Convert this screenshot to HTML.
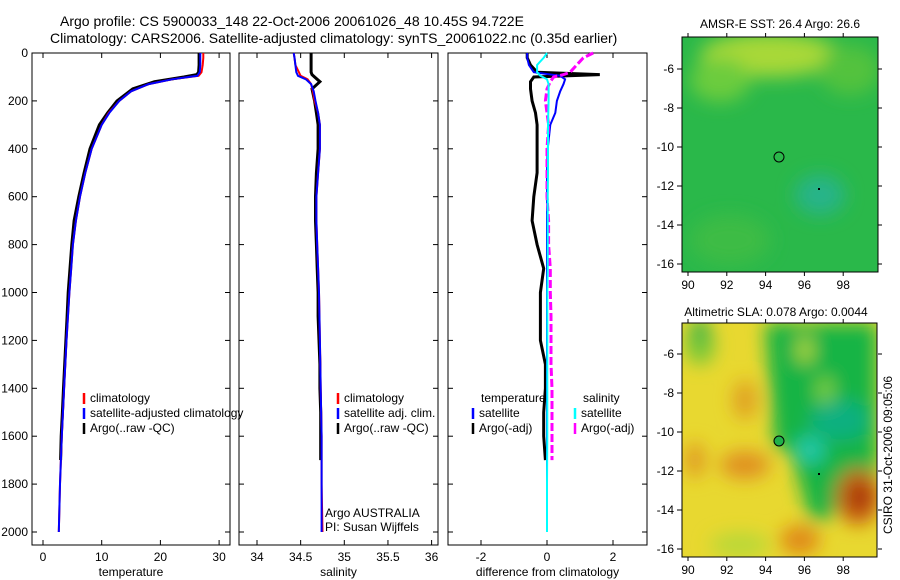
<!DOCTYPE html>
<html><head><meta charset="utf-8"><style>
body{margin:0;background:#fff}
svg{display:block;font-family:"Liberation Sans",sans-serif}
</style></head><body>
<svg id="c" width="900" height="580" viewBox="0 0 900 580">
<defs>
<filter id="bl" x="-50%" y="-50%" width="200%" height="200%"><feGaussianBlur stdDeviation="9"/></filter>
<clipPath id="m1"><rect x="682" y="37" width="196" height="235"/></clipPath>
<clipPath id="m2"><rect x="682" y="323" width="195" height="234"/></clipPath>
</defs>
<text x="60" y="26" font-size="14">Argo profile: CS 5900033_148 22-Oct-2006 20061026_48 10.45S 94.722E</text>
<text x="50" y="43" font-size="14">Climatology: CARS2006. Satellite-adjusted climatology: synTS_20061022.nc (0.35d earlier)</text>

<g>
<text x="780" y="28" font-size="12" text-anchor="middle">AMSR-E SST: 26.4 Argo: 26.6</text>
<g clip-path="url(#m1)">
<rect x="682" y="37" width="196" height="235" fill="#2ab84a"/>
<g filter="url(#bl)">
<ellipse cx="770" cy="55" rx="70" ry="22" fill="#a8d838"/>
<ellipse cx="720" cy="80" rx="30" ry="22" fill="#6ccc3c"/>
<ellipse cx="850" cy="70" rx="30" ry="25" fill="#52c23e"/>
<ellipse cx="820" cy="195" rx="25" ry="20" fill="#26b48a"/>
<ellipse cx="730" cy="240" rx="40" ry="25" fill="#3cbc44"/>
</g>
</g>
<rect x="682" y="37" width="196" height="235" fill="none" stroke="#000"/>
<circle cx="779" cy="157" r="5" fill="none" stroke="#000"/>
<rect x="818" y="188" width="2" height="2" fill="#000"/>
</g>

<g>
<text x="776" y="316" font-size="12" text-anchor="middle">Altimetric SLA: 0.078 Argo: 0.0044</text>
<g clip-path="url(#m2)">
<rect x="682" y="323" width="195" height="234" fill="#e8d830"/>
<g filter="url(#bl)">
<polygon points="765,323 877,323 877,485 850,480 830,520 810,520 790,450 775,450" fill="#18b444"/>
<ellipse cx="840" cy="420" rx="30" ry="20" fill="#10b080"/>
<ellipse cx="810" cy="450" rx="15" ry="14" fill="#20c8a8"/>
<ellipse cx="805" cy="350" rx="8" ry="14" fill="#b0d840"/>
<ellipse cx="825" cy="390" rx="8" ry="14" fill="#80d040"/>
<ellipse cx="858" cy="497" rx="22" ry="28" fill="#c86010"/>
<ellipse cx="860" cy="497" rx="10" ry="13" fill="#a02808"/>
<ellipse cx="745" cy="400" rx="12" ry="20" fill="#e0a020"/>
<ellipse cx="745" cy="465" rx="25" ry="14" fill="#e09020"/>
<ellipse cx="695" cy="460" rx="10" ry="18" fill="#e09a20"/>
<ellipse cx="800" cy="540" rx="20" ry="15" fill="#e08a18"/>
<ellipse cx="700" cy="345" rx="15" ry="20" fill="#78c838"/>
<ellipse cx="740" cy="545" rx="30" ry="12" fill="#b8d838"/>
<ellipse cx="700" cy="330" rx="10" ry="10" fill="#20b04a"/>
</g>
</g>
<rect x="682" y="323" width="195" height="234" fill="none" stroke="#000"/>
<circle cx="779" cy="441" r="5" fill="#20b04a" stroke="#000"/>
<rect x="818" y="473" width="2" height="2" fill="#000"/>
</g>
<text transform="translate(892,455) rotate(-90)" font-size="12" text-anchor="middle">CSIRO 31-Oct-2006 09:05:06</text>
<g id="axes"></g>
</svg>
<script>
const depths=[0,20,50,80,95,110,130,160,200,250,300,400,500,600,700,800,900,1000,1200,1400,1600,1800,2000];
const tempClim=[27.3,27.3,27.2,27,26.5,22,18,15,13,11.2,10,8.3,7.2,6.3,5.6,5.1,4.8,4.5,4,3.6,3.2,2.9,2.7];
const tempSat=[26.8,26.8,26.8,26.7,26.3,22,18,15,13,11.3,10,8.3,7.2,6.3,5.6,5.1,4.8,4.5,4,3.6,3.2,2.9,2.7];
const salClim=[34.42,34.43,34.44,34.48,34.5,34.58,34.62,34.64,34.66,34.7,34.72,34.72,34.7,34.68,34.68,34.69,34.7,34.71,34.72,34.73,34.74,34.74,34.75];
const salSat=[34.42,34.43,34.44,34.45,34.47,34.56,34.62,34.65,34.67,34.7,34.72,34.72,34.7,34.68,34.68,34.69,34.7,34.71,34.72,34.73,34.74,34.74,34.74];
const dTempSat=[-0.6,-0.6,-0.55,-0.4,0.4,0.55,0.5,0.4,0.3,0.25,0.1,0.02,0,0,0,0,0,0,0,0,0,0,0];
const dSalSat=[0,-0.1,-0.3,-0.3,-0.2,0,0.05,0.05,0.05,0.04,0.03,0.03,0.03,0.02,0.02,0.02,0.02,0.01,0.01,0.01,0.01,0,0];
const argoDepths=[0,20,50,80,90,100,120,150,200,250,300,400,500,600,700,800,900,1000,1100,1200,1300,1400,1500,1600,1700];
const tempArgo=[26.6,26.6,26.6,26.5,26.2,24,19,15.3,12.6,11,9.6,8,7,6.1,5.3,4.9,4.6,4.3,4.1,3.9,3.7,3.5,3.3,3.1,3.0];
const salArgo=[34.62,34.62,34.62,34.62,34.63,34.66,34.72,34.63,34.66,34.68,34.7,34.7,34.68,34.67,34.67,34.68,34.69,34.7,34.7,34.71,34.72,34.72,34.73,34.73,34.73];
const dTempArgo=[-0.6,-0.6,-0.5,-0.3,1.6,-0.4,-0.5,-0.5,-0.45,-0.35,-0.3,-0.3,-0.3,-0.4,-0.45,-0.3,-0.1,-0.2,-0.2,-0.2,-0.05,-0.05,-0.1,-0.1,-0.05];
const dSalArgo=[1.4,1.1,0.9,0.7,0.5,0.2,0.1,0,-0.05,0,0.05,0,0,0,0.05,0.05,0.1,0.1,0.12,0.12,0.12,0.15,0.15,0.15,0.15];
const yTicks=[0,200,400,600,800,1000,1200,1400,1600,1800,2000];
const tTicks=[0,10,20,30],sTicks=[34,34.5,35,35.5,36],dTicks=[-2,0,2];
const NS='http://www.w3.org/2000/svg',G=document.getElementById('axes');
function mk(t,a,p){const e=document.createElementNS(NS,t);for(const k in a)e.setAttribute(k,a[k]);(p||G).appendChild(e);return e;}
const yS=d=>53+d*0.2395;
const BOT=545;
function panel(name,x0,x1,xf,ticks,label,showY){
 const g=mk('g',{});
 
 
 mk('rect',{x:x0,y:53,width:x1-x0,height:BOT-53,fill:'none',stroke:'#000'},g);
 ticks.forEach(t=>{const x=xf(t);mk('line',{x1:x,x2:x,y1:53,y2:58,stroke:'#000'},g);mk('line',{x1:x,x2:x,y1:BOT-5,y2:BOT,stroke:'#000'},g);
  const tx=mk('text',{x:x,y:561,'font-size':12,'text-anchor':'middle'},g);tx.textContent=t;});
 yTicks.forEach(d=>{const y=yS(d);mk('line',{x1:x0,x2:x0+5,y1:y,y2:y,stroke:'#000'},g);mk('line',{x1:x1-5,x2:x1,y1:y,y2:y,stroke:'#000'},g);
  if(showY){const tx=mk('text',{x:x0-4,y:y+4,'font-size':12,'text-anchor':'end'},g);tx.textContent=d;}});
 const l=mk('text',{x:(x0+x1)/2,y:576,'font-size':12,'text-anchor':'middle'},g);l.textContent=label;
 
 return g;}
function line(g,xf,dep,vals,col,w,dash,name){
 const p=mk('polyline',{points:vals.map((v,i)=>xf(v).toFixed(1)+','+yS(dep[i]).toFixed(1)).join(' '),fill:'none',stroke:col,'stroke-width':w},g);
 if(dash)p.setAttribute('stroke-dasharray',dash);
 
 }
function leg(g,x,y,items){items.forEach((it,i)=>{mk('line',{x1:x,x2:x,y1:y+i*15-9,y2:y+i*15+2,stroke:it[1],'stroke-width':2.5},g);
 const t=mk('text',{x:x+6,y:y+i*15,'font-size':12},g);t.textContent=it[0];
 });}
const xT=v=>43+v*5.87;
const g1=panel('temperature-panel',32,230,xT,tTicks,'temperature',true);
line(g1,xT,argoDepths,tempArgo,'#000',3,null,'temp-argo-line');line(g1,xT,depths,tempClim,'#f00',2,null,'temp-clim-line');line(g1,xT,depths,tempSat,'#00f',2,null,'temp-sat-line');
leg(g1,84,402,[['climatology','#f00'],['satellite-adjusted climatology','#00f'],['Argo(..raw -QC)','#000']]);
const xS=v=>257+(v-34)*87.3;
const g2=panel('salinity-panel',239,438,xS,sTicks,'salinity',false);
line(g2,xS,argoDepths,salArgo,'#000',3,null,'sal-argo-line');line(g2,xS,depths,salClim,'#f00',2,null,'sal-clim-line');line(g2,xS,depths,salSat,'#00f',2,null,'sal-sat-line');
leg(g2,338,402,[['climatology','#f00'],['satellite adj. clim.','#00f'],['Argo(..raw -QC)','#000']]);
let t=mk('text',{x:325,y:517,'font-size':12},g2);t.textContent='Argo AUSTRALIA';
t=mk('text',{x:325,y:531,'font-size':12},g2);t.textContent='PI: Susan Wijffels';
const xD=v=>547+v*33;
const g3=panel('difference-panel',448,647,xD,dTicks,'difference from climatology',false);
line(g3,xD,argoDepths,dTempArgo,'#000',3,null,'dtemp-argo-line');line(g3,xD,depths,dTempSat,'#00f',2,null,'dtemp-sat-line');
line(g3,xD,argoDepths,dSalArgo,'#f0f',3,'8,3','dsal-argo-line');line(g3,xD,depths,dSalSat,'#0ff',2,null,'dsal-sat-line');
t=mk('text',{x:481,y:402,'font-size':12},g3);t.textContent='temperature';
t=mk('text',{x:583,y:402,'font-size':12},g3);t.textContent='salinity';
leg(g3,473,417,[['satellite','#00f'],['Argo(-adj)','#000']]);
leg(g3,575,417,[['satellite','#0ff'],['Argo(-adj)','#f0f']]);
function mapAx(y0,y1,yTop,name){const g=mk('g',{});
 [90,92,94,96,98].forEach(v=>{const x=688+(v-90)*19.4;mk('line',{x1:x,x2:x,y1:y0-4,y2:y0,stroke:'#000'},g);mk('line',{x1:x,x2:x,y1:y1,y2:y1+4,stroke:'#000'},g);
  const tx=mk('text',{x:x,y:y1+17,'font-size':12,'text-anchor':'middle'},g);tx.textContent=v;});
 [-6,-8,-10,-12,-14,-16].forEach(v=>{const y=yTop+(-6-v)*19.5;mk('line',{x1:677,x2:682,y1:y,y2:y,stroke:'#000'},g);mk('line',{x1:878,x2:882,y1:y,y2:y,stroke:'#000'},g);
  const tx=mk('text',{x:674,y:y+4,'font-size':12,'text-anchor':'end'},g);tx.textContent=v;});}
mapAx(37,272,69,'sst-map-axes');mapAx(323,557,354,'sla-map-axes');
</script>
</body></html>
